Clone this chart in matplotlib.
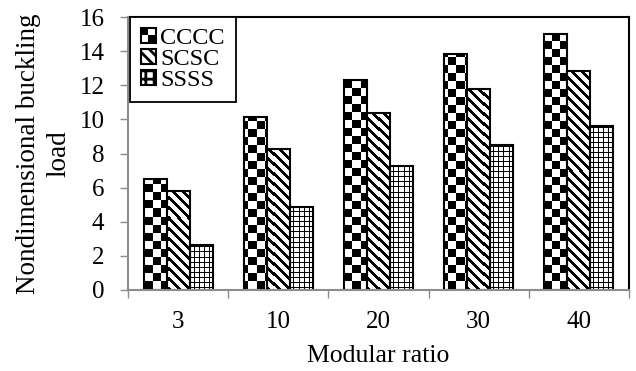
import numpy as np
import matplotlib
matplotlib.use('Agg')
import matplotlib.pyplot as plt
import matplotlib.patches as mpatches
from matplotlib.legend_handler import HandlerBase

plt.rcParams['font.family'] = ['Liberation Serif', 'DejaVu Serif']
plt.rcParams['hatch.linewidth'] = 2.0

ratios = ['3', '10', '20', '30', '40']
cccc = [6.52, 10.12, 12.31, 13.82, 14.99]
scsc = [5.82, 8.26, 10.36, 11.76, 12.84]
ssss = [2.66, 4.88, 7.29, 8.52, 9.61]

W_PX, H_PX = 636, 371
fig = plt.figure(figsize=(W_PX / 100, H_PX / 100), dpi=100)
# axes placed on whole pixels so the pattern images map 1:1
ax_l, ax_b, ax_w, ax_h = 128, 81, 501, 273
ax = fig.add_axes([ax_l / W_PX, ax_b / H_PX, ax_w / W_PX, ax_h / H_PX])

# fill patterns, 1 = black
yy, xx = np.mgrid[0:ax_h, 0:ax_w]
checker = ((yy // 8 + xx // 8) % 2).astype(float)
diag = ((yy - xx) % 10 < 4).astype(float)
grid = ((yy % 5 < 1) | (xx % 5 < 1)).astype(float)

x = np.arange(len(ratios))
barwidth = 0.23
xlim = (-0.5, len(ratios) - 0.5)
ylim = (0, 16)

series = [(cccc, checker, -barwidth), (scsc, diag, 0.0), (ssss, grid, barwidth)]
for vals, pat, off in series:
    bars = ax.bar(x + off, vals, width=barwidth, facecolor='none',
                  edgecolor='black', linewidth=1.5, zorder=3)
    for b in bars:
        im = ax.imshow(pat, extent=(xlim[0], xlim[1], ylim[0], ylim[1]),
                       cmap='gray_r', vmin=0, vmax=1, interpolation='nearest',
                       aspect='auto', zorder=2)
        im.set_clip_path(b)

ax.set_xlim(*xlim)
ax.set_ylim(*ylim)

# axis lines
for s in ['left', 'bottom']:
    ax.spines[s].set_color('#8c8c8c')
    ax.spines[s].set_linewidth(1.5)
for s in ['top', 'right']:
    ax.spines[s].set_color('black')
    ax.spines[s].set_linewidth(1.5)
ax.spines['left'].set_zorder(4)
ax.spines['bottom'].set_zorder(4)

ax.set_yticks(np.arange(0, 17, 2))
ax.tick_params(axis='y', which='major', direction='out', length=6, width=1,
               color='#8c8c8c', labelsize=18, pad=11)
ax.set_xticks(x)
ax.set_xticklabels(ratios)
ax.tick_params(axis='x', which='major', length=0, labelsize=18, pad=15)
ax.set_xticks(np.arange(-0.5, len(ratios), 1.0), minor=True)
ax.tick_params(axis='x', which='minor', direction='out', length=6, width=1,
               color='#8c8c8c')

ax.set_xlabel('Modular ratio', fontsize=18.5, labelpad=9)
ax.set_ylabel('Nondimensional buckling\nload', fontsize=19.5, labelpad=6,
              linespacing=1.25)


class CheckerHandler(HandlerBase):
    def create_artists(self, legend, orig_handle, xdescent, ydescent,
                       width, height, fontsize, trans):
        x0, y0 = -xdescent, -ydescent
        w2, h2 = width / 2, height / 2
        bg = mpatches.Rectangle((x0, y0), width, height, facecolor='white',
                                edgecolor='none', transform=trans)
        q1 = mpatches.Rectangle((x0, y0 + h2), w2, h2, facecolor='black',
                                edgecolor='none', transform=trans)
        q2 = mpatches.Rectangle((x0 + w2, y0), w2, h2, facecolor='black',
                                edgecolor='none', transform=trans)
        frame = mpatches.Rectangle((x0, y0), width, height, facecolor='none',
                                   edgecolor='black', lw=1.5, transform=trans)
        return [bg, q1, q2, frame]


h_c = mpatches.Patch(facecolor='white', edgecolor='black')
h_s = mpatches.Patch(facecolor='white', edgecolor='black', hatch='\\\\\\', lw=1.5)
h_ss = mpatches.Patch(facecolor='white', edgecolor='black', hatch='++', lw=1.5)
leg = ax.legend([h_c, h_s, h_ss], ['CCCC', 'SCSC', 'SSSS'],
                handler_map={h_c: CheckerHandler()},
                loc='upper left', bbox_to_anchor=(0.004, 1.0), borderaxespad=0,
                fontsize=17.5, frameon=True, fancybox=False, framealpha=1,
                edgecolor='black', handlelength=0.6, handleheight=0.55,
                handletextpad=0.2, labelspacing=0.0, borderpad=0.45)
leg.get_frame().set_linewidth(1.3)
leg.set_zorder(5)

fig.savefig('out.png', dpi=100)
